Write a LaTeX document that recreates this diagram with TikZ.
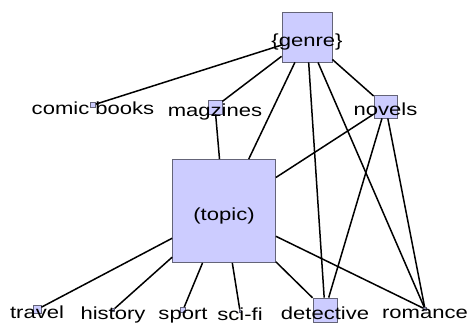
\documentclass[tikz,border=0pt]{standalone}
\usepackage{fontspec}
\setmainfont{Liberation Sans}[FakeStretch=1.26]
\definecolor{boxfill}{RGB}{204,204,255}
\definecolor{boxline}{RGB}{100,100,120}
\tikzset{
	term/.style={draw=boxline, fill=boxfill, line width=0.8pt, inner sep=0pt, minimum size=#1},
	lbl/.style={font=\fontsize{17.5}{20}\selectfont, text=black, inner sep=0pt, text height=18pt, text depth=0pt},
	link/.style={line width=1.5pt, black}
}
\begin{document}
\begin{tikzpicture}[x=1pt,y=-1pt]
	\useasboundingbox (0,0) rectangle (472,322);
	%TOP NODES
	\node[term=50pt,label={[lbl]center:\{genre\}}] (genre) at (307,37) {};
	\node[term=5pt,label={[lbl]center:comic books}] (comic) at (93,105) {};
	\node[term=14pt,label={[lbl]center:magzines}] (magazines) at (215,107) {};
	\node[term=23pt,label={[lbl]center:novels}] (novels) at (385.5,106.5) {};
	%MIDDLE
	\node[term=103pt,label={[lbl]center:(topic)}] (topic) at (224,211) {};
	%BOTTOM ROW
	\node[term=8pt,label={[lbl]center:travel}] (travel) at (37,309.5) {};
	\node[term=3pt,label={[lbl]center:history}] (history) at (113,310) {};
	\node[term=5pt,label={[lbl]center:sport}] (sport) at (183,310) {};
	\node[term=2pt,label={[lbl]center:sci-fi}] (scifi) at (240,311) {};
	\node[term=24pt,label={[lbl]center:detective}] (detective) at (325,310) {};
	\node[term=3pt,label={[lbl]center:romance}] (romance) at (425,309) {};
	
	%EDGES
	\draw[link] (genre)--(comic);
	\draw[link] (genre)--(magazines);
	\draw[link] (genre)--(topic);
	\draw[link] (genre)--(novels);
	\draw[link] (genre)--(detective);
	\draw[link] (genre)--(romance);
	\draw[link] (novels)--(topic);
	\draw[link] (novels)--(detective);
	\draw[link] (novels)--(romance);
	\draw[link] (topic)--(magazines);
	\draw[link] (topic)--(travel);
	\draw[link] (topic)--(history);
	\draw[link] (topic)--(sport);
	\draw[link] (topic)--(scifi);
	\draw[link] (topic)--(detective);
	\draw[link] (topic)--(romance);
\end{tikzpicture}
\end{document}
